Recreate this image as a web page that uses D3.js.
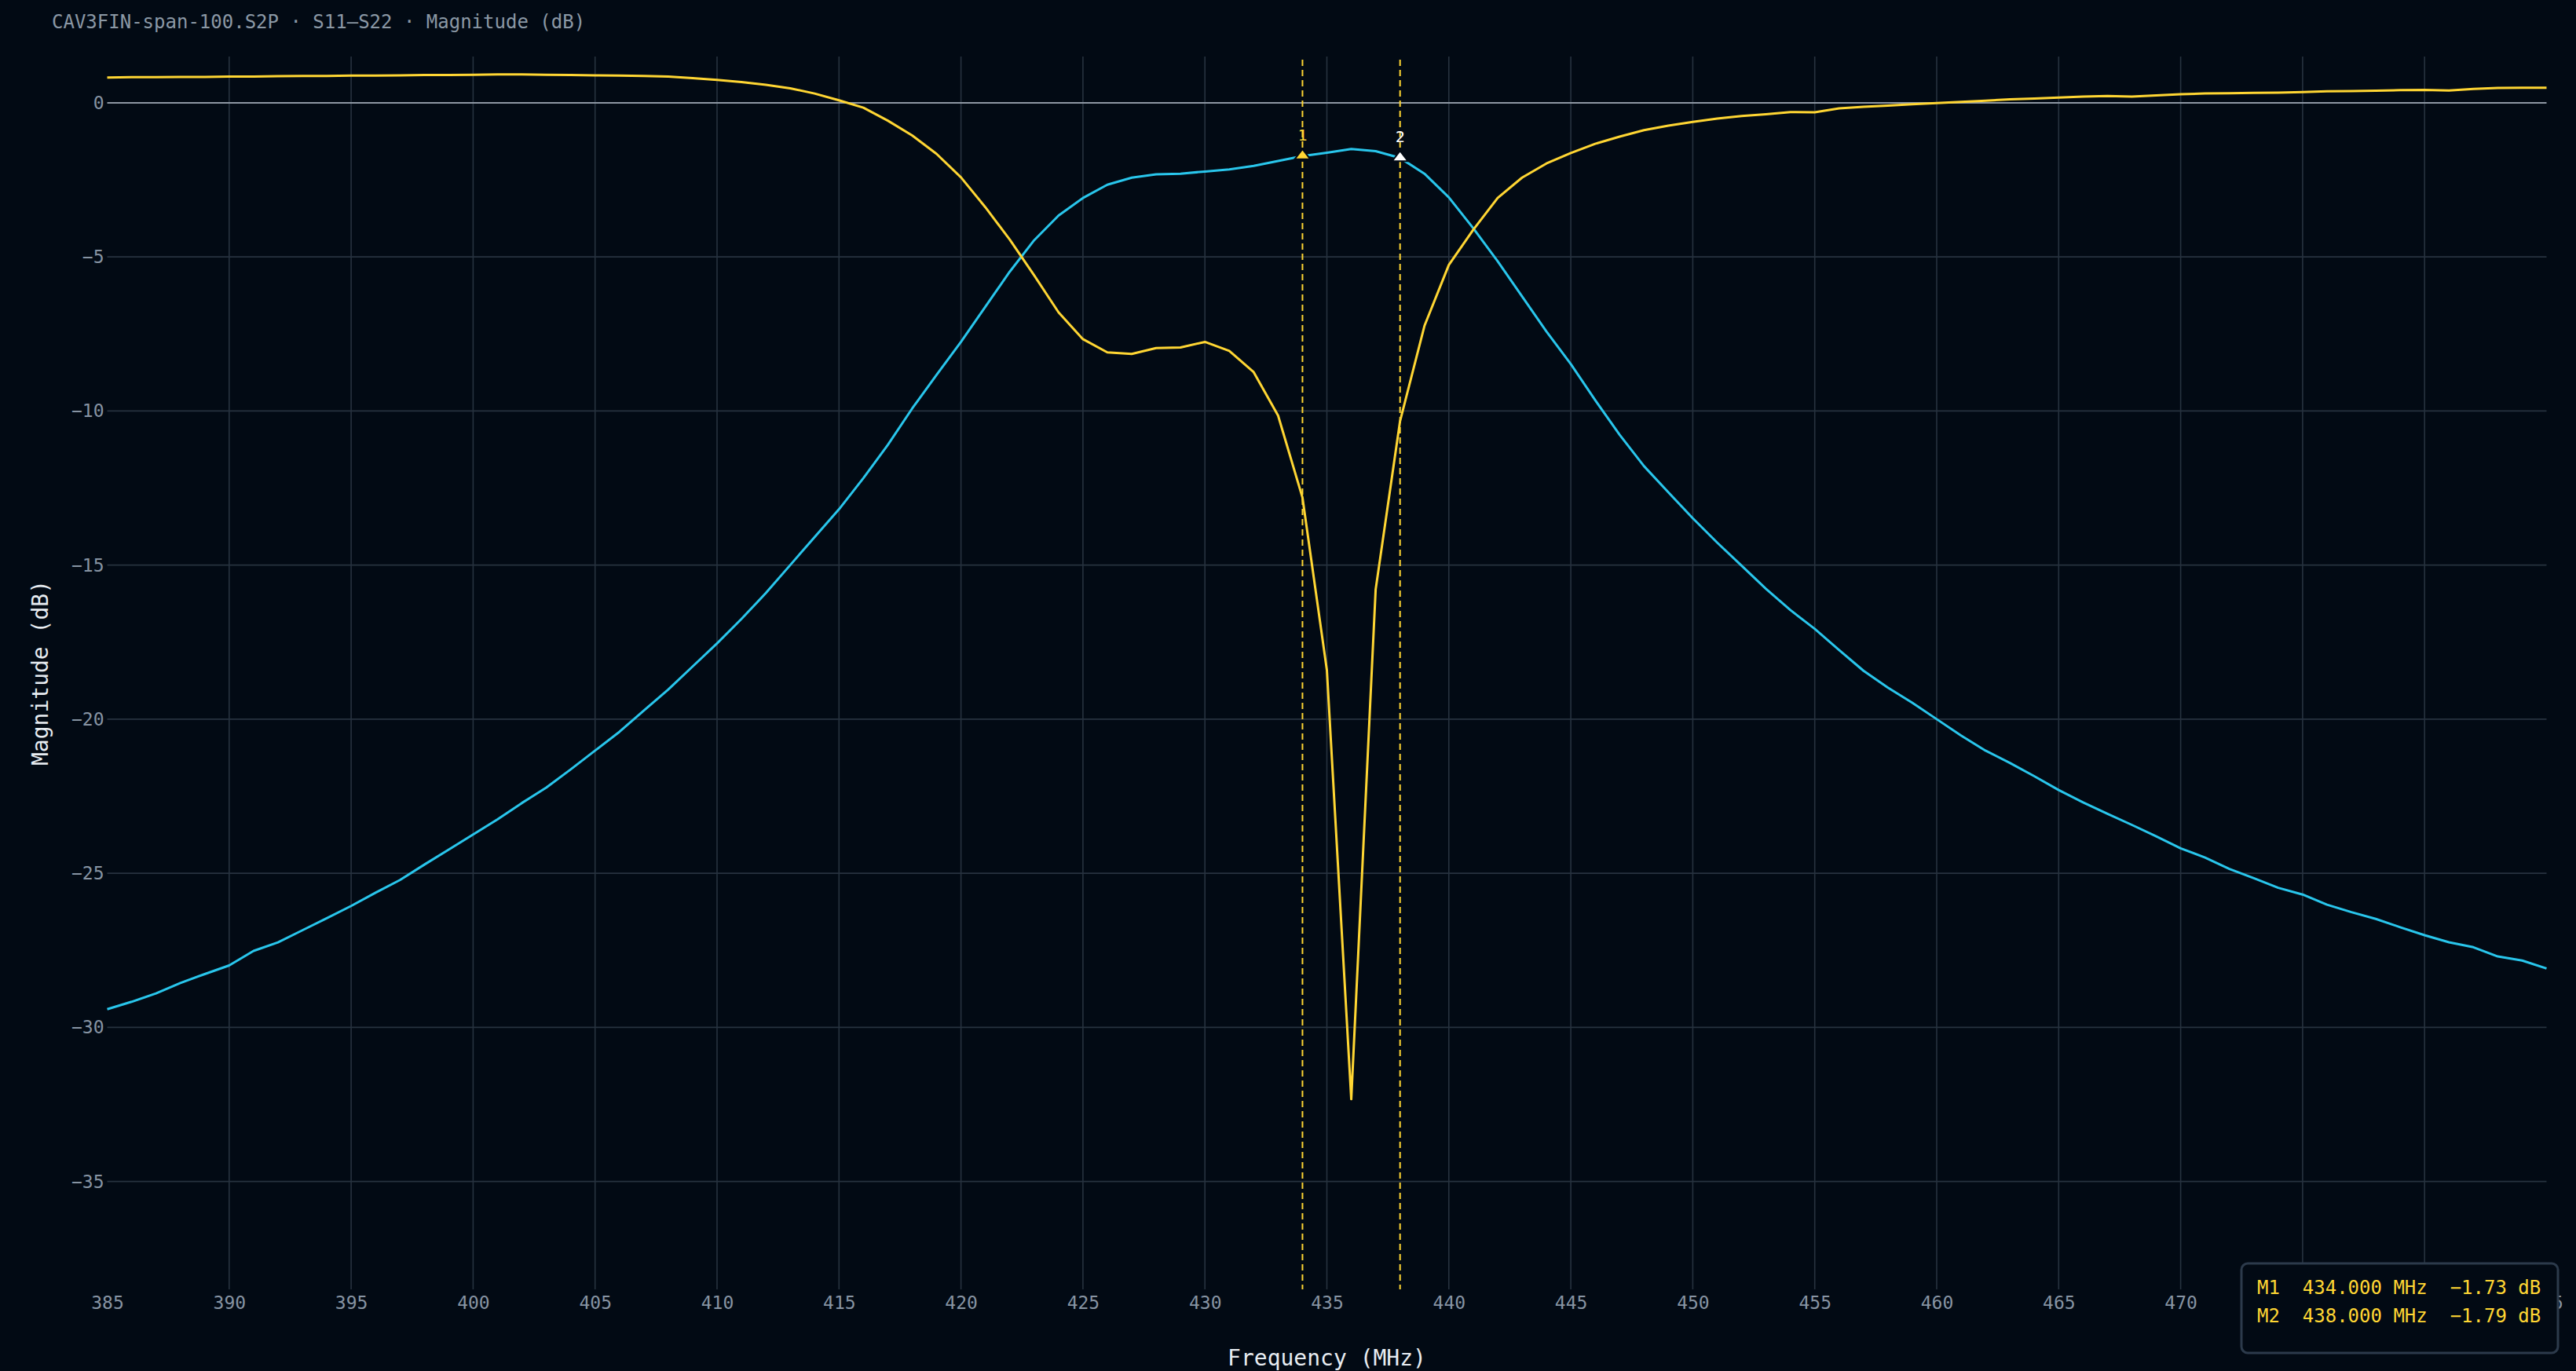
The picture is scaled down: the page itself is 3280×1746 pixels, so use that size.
<!DOCTYPE html>
<html>
<head>
<meta charset="utf-8">
<script src="https://d3js.org/d3.v7.min.js"></script>
<style>
  html, body { margin: 0; padding: 0; background: #020a14; }
  svg { display: block; }
  text { font-family: "DejaVu Sans Mono", "Liberation Mono", monospace; }
</style>
</head>
<body>
<div id="run"></div>
<script>
var width = 3280,
    height = 1746;

var margin = { top: 72, right: 37.5, bottom: 104, left: 136.5 };

var titleText = 'CAV3FIN-span-100.S2P · S11–S22 · Magnitude (dB)';

// frequency points (MHz)
var freqMHz = [385, 386, 387, 388, 389, 390, 391, 392, 393, 394,
    395, 396, 397, 398, 399, 400, 401, 402, 403, 404,
    405, 406, 407, 408, 409, 410, 411, 412, 413, 414,
    415, 416, 417, 418, 419, 420, 421, 422, 423, 424,
    425, 426, 427, 428, 429, 430, 431, 432, 433, 434,
    435, 436, 437, 438, 439, 440, 441, 442, 443, 444,
    445, 446, 447, 448, 449, 450, 451, 452, 453, 454,
    455, 456, 457, 458, 459, 460, 461, 462, 463, 464,
    465, 466, 467, 468, 469, 470, 471, 472, 473, 474,
    475, 476, 477, 478, 479, 480, 481, 482, 483, 484, 485];

// yellow trace (reflection)
var s11dB = [0.82, 0.83, 0.83, 0.84, 0.84, 0.85, 0.85, 0.86, 0.87, 0.87,
    0.88, 0.88, 0.89, 0.90, 0.90, 0.91, 0.92, 0.92, 0.91, 0.90,
    0.89, 0.88, 0.87, 0.85, 0.80, 0.74, 0.67, 0.58, 0.47, 0.30,
    0.08, -0.16, -0.58, -1.06, -1.66, -2.42, -3.39, -4.44, -5.60, -6.80,
    -7.67, -8.10, -8.15, -7.96, -7.94, -7.76, -8.05, -8.74, -10.15, -12.81,
    -18.41, -32.33, -15.79, -10.33, -7.24, -5.26, -4.12, -3.09, -2.43, -1.97,
    -1.63, -1.33, -1.10, -0.89, -0.74, -0.62, -0.51, -0.43, -0.37, -0.30,
    -0.31, -0.18, -0.13, -0.09, -0.05, -0.01, 0.03, 0.07, 0.11, 0.14,
    0.17, 0.20, 0.22, 0.20, 0.24, 0.28, 0.30, 0.31, 0.32, 0.33,
    0.35, 0.37, 0.38, 0.39, 0.41, 0.42, 0.40, 0.45, 0.48, 0.49, 0.49];

// cyan trace (transmission)
var s21dB = [-29.41, -29.17, -28.90, -28.56, -28.27, -27.99, -27.52, -27.24, -26.85, -26.46,
    -26.06, -25.63, -25.22, -24.72, -24.23, -23.74, -23.25, -22.72, -22.22, -21.63,
    -21.02, -20.41, -19.72, -19.04, -18.29, -17.54, -16.75, -15.91, -15.00, -14.09,
    -13.19, -12.18, -11.10, -9.92, -8.83, -7.76, -6.62, -5.48, -4.46, -3.66,
    -3.09, -2.66, -2.43, -2.32, -2.30, -2.23, -2.16, -2.05, -1.89, -1.73,
    -1.62, -1.50, -1.57, -1.79, -2.30, -3.07, -4.07, -5.14, -6.28, -7.42,
    -8.48, -9.65, -10.77, -11.79, -12.64, -13.48, -14.27, -15.02, -15.77, -16.46,
    -17.07, -17.76, -18.43, -18.98, -19.47, -20.00, -20.53, -21.02, -21.42, -21.85,
    -22.30, -22.70, -23.07, -23.43, -23.80, -24.19, -24.49, -24.86, -25.16, -25.47,
    -25.69, -26.02, -26.26, -26.48, -26.75, -27.01, -27.24, -27.40, -27.70, -27.83, -28.09];

var xTicks = [385, 390, 395, 400, 405, 410, 415, 420, 425, 430, 435,
    440, 445, 450, 455, 460, 465, 470, 475, 480, 485];
var yTicks = [0, -5, -10, -15, -20, -25, -30, -35];
var xDomain = [385, 485],
    yDomain = [-38.5, 1.5];

// markers sit on the cyan trace
var markerNames = ['1', '2'];
var markerFreqs = [434, 438];
var markerFills = ['#ffd633', '#ffffff'];

var bg = '#020a14',
    yellow = '#ffd633',
    cyan = '#29c6ec';

var x = d3.scaleLinear().domain(xDomain).range([margin.left, width - margin.right]);
var y = d3.scaleLinear().domain(yDomain).range([height - margin.bottom, margin.top]);

var svg = d3.select("#run").append("svg")
    .attr("width", width)
    .attr("height", height);

svg.append("rect")
    .attr("width", width)
    .attr("height", height)
    .attr("fill", bg);

// grid
svg.append("g").selectAll("line")
    .data(xTicks.filter(function(t) { return t > xDomain[0] && t < xDomain[1]; }))
    .join("line")
    .attr("x1", function(d) { return x(d); })
    .attr("x2", function(d) { return x(d); })
    .attr("y1", y(yDomain[1]))
    .attr("y2", y(yDomain[0]))
    .attr("stroke", "#27323f")
    .attr("stroke-width", 1.6);

svg.append("g").selectAll("line")
    .data(yTicks.filter(function(t) { return t !== 0; }))
    .join("line")
    .attr("x1", x(xDomain[0]))
    .attr("x2", x(xDomain[1]))
    .attr("y1", function(d) { return y(d); })
    .attr("y2", function(d) { return y(d); })
    .attr("stroke", "#27323f")
    .attr("stroke-width", 1.6);

svg.append("line")
    .attr("x1", x(xDomain[0]))
    .attr("x2", x(xDomain[1]))
    .attr("y1", y(0))
    .attr("y2", y(0))
    .attr("stroke", "#8d97a3")
    .attr("stroke-width", 2);

// axes (labels only)
var xAxis = svg.append("g")
    .attr("transform", "translate(0," + y(yDomain[0]) + ")")
    .call(d3.axisBottom(x).tickValues(xTicks).tickSize(0).tickPadding(9).tickFormat(d3.format("d")));

var yAxis = svg.append("g")
    .attr("transform", "translate(" + x(xDomain[0]) + ",0)")
    .call(d3.axisLeft(y).tickValues(yTicks).tickSize(0).tickPadding(4));

[xAxis, yAxis].forEach(function(g) {
    g.select(".domain").remove();
    g.selectAll("text")
        .attr("fill", "#8794a3")
        .style("font-size", "23px")
        .style("font-family", '"DejaVu Sans Mono", monospace');
});

// traces
var line = function(vals) {
    return d3.line()
        .x(function(d, i) { return x(freqMHz[i]); })
        .y(function(d) { return y(d); })(vals);
};

svg.append("path")
    .attr("d", line(s21dB))
    .attr("fill", "none")
    .attr("stroke", cyan)
    .attr("stroke-width", 3)
    .attr("stroke-linejoin", "round");

svg.append("path")
    .attr("d", line(s11dB))
    .attr("fill", "none")
    .attr("stroke", yellow)
    .attr("stroke-width", 3)
    .attr("stroke-linejoin", "round");

// markers
var markers = markerFreqs.map(function(f, i) {
    var idx = freqMHz.indexOf(f);
    return { name: markerNames[i], f: f, v: s21dB[idx], fill: markerFills[i] };
});

svg.append("g").selectAll("line")
    .data(markers)
    .join("line")
    .attr("x1", function(d) { return x(d.f); })
    .attr("x2", function(d) { return x(d.f); })
    .attr("y1", y(yDomain[1]) + 4)
    .attr("y2", y(yDomain[0]))
    .attr("stroke", yellow)
    .attr("stroke-width", 2)
    .attr("stroke-dasharray", "8,5");

svg.append("g").selectAll("path")
    .data(markers)
    .join("path")
    .attr("d", function(d) {
        var cx = x(d.f), cy = y(d.v);
        return "M" + cx + "," + (cy - 9) + "L" + (cx + 10) + "," + (cy + 4) + "L" + (cx - 10) + "," + (cy + 4) + "Z";
    })
    .attr("fill", function(d) { return d.fill; })
    .attr("stroke", bg)
    .attr("stroke-width", 2);

svg.append("g").selectAll("text")
    .data(markers)
    .join("text")
    .attr("x", function(d) { return x(d.f); })
    .attr("y", function(d) { return y(d.v) - 20; })
    .attr("text-anchor", "middle")
    .attr("fill", function(d) { return d.fill; })
    .style("font-size", "20px")
    .text(function(d) { return d.name; });

// titles
svg.append("text")
    .attr("x", 66)
    .attr("y", 36)
    .attr("fill", "#8b98a5")
    .style("font-size", "24px")
    .text(titleText);

svg.append("text")
    .attr("x", (x(xDomain[0]) + x(xDomain[1])) / 2)
    .attr("y", 1739)
    .attr("text-anchor", "middle")
    .attr("fill", "#e8edf2")
    .style("font-size", "28px")
    .text("Frequency (MHz)");

svg.append("text")
    .attr("transform", "translate(61," + (y(yDomain[0]) + y(yDomain[1])) / 2 + ") rotate(-90)")
    .attr("text-anchor", "middle")
    .attr("fill", "#e8edf2")
    .style("font-size", "28px")
    .text("Magnitude (dB)");

// marker readout box
var boxW = 403, boxH = 114,
    boxX = x(xDomain[1]) + 14.5 - boxW,
    boxY = y(yDomain[0]) - 33;

svg.append("rect")
    .attr("x", boxX)
    .attr("y", boxY)
    .attr("width", boxW)
    .attr("height", boxH)
    .attr("rx", 8)
    .attr("fill", bg)
    .attr("stroke", "#2c3a4b")
    .attr("stroke-width", 3);

svg.append("g").selectAll("text")
    .data(markers)
    .join("text")
    .attr("x", boxX + 20)
    .attr("y", function(d, i) { return boxY + 39 + i * 36; })
    .attr("fill", yellow)
    .attr("xml:space", "preserve")
    .style("white-space", "pre")
    .style("font-size", "24px")
    .text(function(d) {
        return "M" + d.name + "  " + d3.format(".3f")(d.f) + " MHz  " + d3.format(".2f")(d.v) + " dB";
    });
</script>
</body>
</html>
